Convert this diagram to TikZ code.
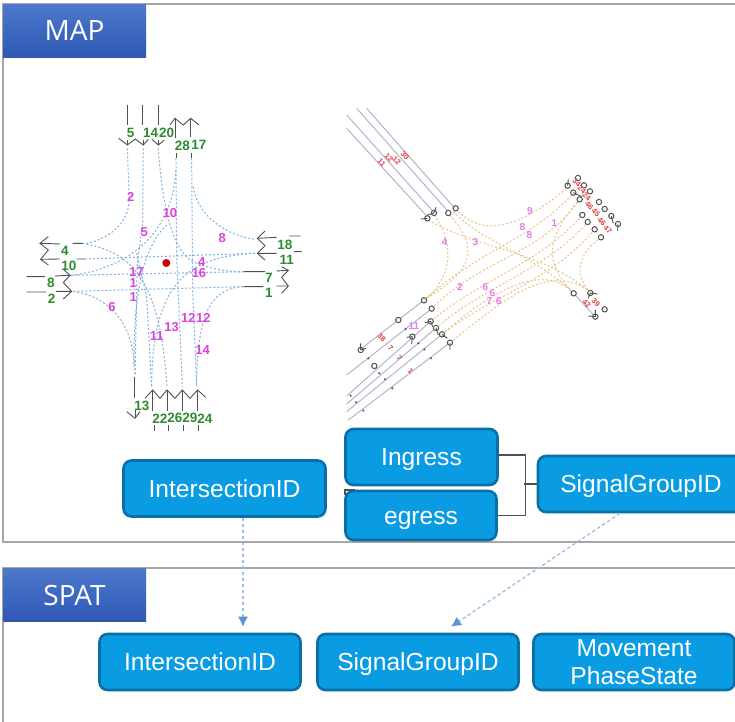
\documentclass[tikz,border=0pt]{standalone}
\usepackage{fontspec}
\setmainfont{Liberation Sans}
\newfontfamily\headfont{Open Sans}
\usetikzlibrary{arrows.meta}
\definecolor{boxfill}{HTML}{0A9CE2}
\definecolor{boxedge}{HTML}{0A6FA6}
\definecolor{frameline}{HTML}{A6A6A6}
\definecolor{linkblue}{HTML}{9DBCE4}
\definecolor{tipblue}{HTML}{5B94D6}
\definecolor{lanegreen}{HTML}{2E8B2E}
\definecolor{lanepink}{HTML}{E040E0}
\definecolor{lanered}{HTML}{E04040}
\definecolor{laneblue}{HTML}{7FB2DC}
\definecolor{laneorange}{HTML}{E8C48A}
\definecolor{lanegray}{HTML}{B4B4CC}
\definecolor{symbgray}{HTML}{505050}
\definecolor{headtop}{HTML}{4C78CC}
\definecolor{headbot}{HTML}{2F58B4}
\tikzset{
  bluebox/.style={draw=boxedge,line width=2.6pt,fill=boxfill,rounded corners=8pt,text=white,
    font=\fontsize{24.6}{28}\selectfont,align=center,inner sep=0pt,minimum height=#1},
  bluebox/.default=56pt,
  header/.style={inner sep=0pt,minimum width=143pt,minimum height=53pt,top color=headtop,bottom color=headbot,
    text=white,font=\headfont\fontsize{28}{32}\selectfont},
  frameedge/.style={draw=frameline,line width=1.4pt},
  bracket/.style={draw=symbgray,line width=1.3pt},
  linkarrow/.style={draw=linkblue,line width=1.3pt,dash pattern=on 3.5pt off 2.5pt,
    -{Latex[length=10pt,width=10pt,color=tipblue]}},
  greenlab/.style={text=lanegreen,font=\bfseries\fontsize{13.5}{15}\selectfont,inner sep=0pt},
  pinklab/.style={text=lanepink,font=\bfseries\fontsize{13}{15}\selectfont,inner sep=0pt},
  redlab/.style={text=lanered,font=\bfseries\fontsize{7.5}{8}\selectfont,inner sep=0pt,rotate=-45},
  orangepink/.style={text=lanepink!70,font=\bfseries\fontsize{10}{11}\selectfont,inner sep=0pt},
  bluelane/.style={draw=laneblue,line width=1pt,dash pattern=on 2pt off 2pt},
  orangelane/.style={draw=laneorange,line width=1pt,dash pattern=on 2pt off 2pt},
  lilac/.style={draw=lanegray,line width=1pt},
  symb/.style={draw=symbgray,line width=0.9pt},
}
\begin{document}
\begin{tikzpicture}[x=1pt,y=-1pt]
\useasboundingbox (0,0) rectangle (735,721);
\fill[white] (0,0) rectangle (735,721);
% frames
\draw[frameedge] (800,4) -- (3,4) -- (3,542) -- (800,542);
\draw[frameedge] (800,568) -- (3,568) -- (3,760);
\node[header] (maphead) at (74.5,30.5) {MAP};
\node[header] (spathead) at (74.5,595) {SPAT};

% ---------- left intersection (coordinates of a 3x crop)
\begin{scope}[shift={(20,90)},x=0.3333pt,y=-0.3333pt]
  % lanes
  \draw[bluelane] (322,175) -- (328,330) .. controls (325,400) and (270,445) .. (195,462);
  \draw[bluelane] (370,175) -- (368,400) -- (352,520) -- (345,855);
  \draw[bluelane] (415,175) .. controls (425,320) and (450,480) .. (520,515) .. controls (560,535) and (620,545) .. (672,546);
  \draw[bluelane] (468,205) -- (470,500) -- (487,890);
  \draw[bluelane] (515,205) -- (518,600) -- (530,890);
  \draw[bluelane] (468,240) .. controls (460,400) and (360,530) .. (150,557);
  \draw[bluelane] (520,290) .. controls (530,370) and (610,435) .. (705,448);
  \draw[bluelane] (200,462) .. controls (330,490) and (420,560) .. (441,890);
  \draw[bluelane] (195,507) -- (705,490);
  \draw[bluelane] (150,556) -- (670,545);
  \draw[bluelane] (160,604) -- (670,590);
  \draw[bluelane] (160,604) .. controls (260,620) and (345,690) .. (345,855);
  \draw[bluelane] (670,590) .. controls (590,595) and (530,640) .. (530,890);
  \draw[bluelane] (705,490) .. controls (520,500) and (395,560) .. (395,890);
  \draw[bluelane] (350,490) -- (380,620) -- (395,890);
  \draw[bluelane] (440,405) .. controls (370,470) and (340,610) .. (342,830);
  % north
  \foreach \x in {322,368,414}{\draw[symb] (\x,45) -- (\x,105);}
  \draw[symb] (296,145) -- (322,165) -- (346,147) -- (370,165) -- (385,148);
  \draw[symb] (396,148) -- (415,165) -- (433,150);
  \draw[symb] (322,150) -- (322,165) (370,150) -- (370,165) (415,150) -- (415,165);
  \draw[symb] (465,145) -- (465,85) (512,140) -- (512,85);
  \draw[symb] (450,105) -- (465,85) -- (490,105) -- (512,85) -- (537,105);
  \draw[symb] (468,190) -- (468,205) (515,190) -- (515,205);
  % west
  \draw[symb] (120,462) -- (60,460) (158,460) -- (190,460);
  \draw[symb] (85,440) -- (60,460) -- (85,480) -- (62,508) -- (85,525);
  \draw[symb] (120,507) -- (62,508) (170,507) -- (195,507);
  \draw[symb] (20,560) -- (75,560) (105,558) -- (150,556) (20,606) -- (78,606) (108,604) -- (155,604);
  \draw[symb] (130,538) -- (150,556) -- (130,578) -- (155,604) -- (130,627);
  % east
  \draw[symb] (712,445) -- (770,442) (808,438) -- (842,438) (712,490) -- (770,490) (822,485) -- (845,485);
  \draw[symb] (735,423) -- (712,445) -- (735,467) -- (712,490) -- (735,510);
  \draw[symb] (672,545) -- (735,545) (770,543) -- (805,541) (672,590) -- (730,590) (770,588) -- (805,588);
  \draw[symb] (785,530) -- (805,541) -- (785,562) -- (805,588) -- (785,610);
  % south
  \draw[symb] (343,860) -- (343,925) (345,960) -- (345,985);
  \draw[symb] (320,965) -- (345,985) -- (360,965);
  \foreach \x in {398,441,487,533}{\draw[symb] (\x,962) -- (\x,900);}
  \draw[symb] (375,925) -- (398,900) -- (420,925) -- (441,900) -- (465,925) -- (487,900) -- (510,925) -- (533,900) -- (557,922);
  \foreach \x in {402,444,490,536}{\draw[symb] (\x,1005) -- (\x,1022);}
  % green numbers
  \foreach \t/\x/\y [count=\i] in {5/332/130,14/392/130,20/440/128,28/487/168,17/537/165,
     4/135/483,10/147/527,8/93/580,2/95/627,18/795/465,11/800/511,7/747/565,1/747/610,
     13/366/948,22/420/985,26/465/985,29/510/985,24/555/985}
    {\node[greenlab] (gr\i) at (\x,\y) {\t};}
  % pink numbers
  \foreach \t/\x/\y [count=\i] in {2/332/320,10/450/370,5/373/427,8/607/445,17/350/545,4/545/515,
     16/537/548,1/340/578,1/340/622,6/276/650,12/505/683,12/550/683,13/455/712,11/410/738,14/548/780}
    {\node[pinklab] (pk\i) at (\x,\y) {\t};}
  \fill[red!80!black] (439,519) circle [radius=12];
\end{scope}

% ---------- right intersection (coordinates of a 3x crop)
\begin{scope}[shift={(340,100)},x=0.3333pt,y=-0.3333pt]
  % lane lines
  \draw[lilac] (80,25) -- (340,320);
  \draw[lilac] (50,25) -- (325,335);
  \draw[lilac] (20,45) -- (280,335);
  \draw[lilac] (20,85) -- (262,350);
  \draw[lilac] (250,602) -- (65,745);
  \draw[lilac] (275,626) -- (20,825);
  \draw[lilac] (272,664) -- (20,888);
  \draw[lilac] (288,684) -- (20,912);
  \draw[lilac] (306,703) -- (20,935);
  \draw[lilac] (330,728) -- (25,960);
  \draw[lilac] (701,580) -- (766,650);
  % movements
  \draw[orangelane] (355,335) .. controls (420,400) and (520,400) .. (680,265);
  \draw[orangelane] (330,345) .. controls (420,450) and (400,510) .. (250,602);
  \draw[orangelane] (282,345) .. controls (340,420) and (345,530) .. (250,602);
  \draw[orangelane] (265,360) .. controls (420,450) and (600,450) .. (750,575);
  \draw[orangelane] (340,335) .. controls (430,430) and (560,450) .. (700,578);
  \draw[orangelane] (252,601) .. controls (430,440) and (560,430) .. (700,280);
  \draw[orangelane] (275,626) .. controls (430,470) and (600,470) .. (719,298);
  \draw[orangelane] (272,664) .. controls (420,540) and (600,490) .. (727,345);
  \draw[orangelane] (288,684) .. controls (430,560) and (620,510) .. (743,366);
  \draw[orangelane] (306,703) .. controls (450,590) and (640,540) .. (764,388);
  \draw[orangelane] (306,703) .. controls (470,560) and (610,490) .. (700,578);
  \draw[orangelane] (330,728) .. controls (480,610) and (620,480) .. (751,575);
  \draw[orangelane] (783,412) .. controls (700,470) and (710,540) .. (751,575);
  \draw[orangelane] (719,298) .. controls (630,400) and (600,480) .. (700,578);
  % stop-line circles
  \foreach \x/\y in {347/325,325/339,282/339,262/355,252/601,275/626,175/660,62/750,103/798,
     272/664,288/684,306/703,330/728,217/710,714/234,732/256,750/274,683/257,700/278,719/298,
     777/306,794/327,814/348,834/372,727/345,743/366,764/388,783/412,701/580,751/579,794/628,766/650}
    {\draw[symb,fill=white,line width=1pt] (\x,\y) circle [radius=8];}
  \foreach \x/\y in {85/775,197/687,235/730,253/748,273/775,118/820,135/838,157/865,32/887,48/907,70/932}
    {\fill[symbgray] (\x,\y) circle [radius=3.5];}
  % arrow marks by the circles
  \draw[symb] (262,355) -- (243,357) (282,339) -- (288,322) (282,339) -- (262,345);
  \draw[symb] (62,750) -- (62,730) (62,750) -- (78,745);
  \draw[symb] (217,710) -- (200,712) (217,710) -- (215,732);
  \draw[symb] (272,664) -- (255,668) (272,664) -- (278,680);
  \draw[symb] (288,684) -- (295,705) (306,703) -- (322,715) (330,728) -- (330,750);
  \draw[symb] (751,579) -- (772,582) (751,579) -- (745,595);
  \draw[symb] (766,650) -- (745,648) (766,650) -- (766,630);
  \draw[symb] (683,257) -- (685,238) (700,278) -- (725,290) (834,372) -- (833,392) (814,348) -- (820,370);
  % lane numbers
  \foreach \t/\x/\y [count=\i] in {9/570/332,8/547/380,8/568/404,1/643/370,4/313/425,3/406/427,
     2/360/562,6/436/562,6/457/580,7/448/604,6/477/604,11/222/677}
    {\node[orangepink] (op\i) at (\x,\y) {\t};}
  \foreach \t/\x/\y [count=\i] in {11/125/188,12/147/172,12/170/182,30/195/168,38/125/712,7/152/745,
     7/178/775,1/212/815,34/710/248,24/726/270,24/740/290,46/748/318,45/768/338,46/785/365,47/803/388,
     42/740/610,39/768/607}
    {\node[redlab] (rd\i) at (\x,\y) {\t};}
\end{scope}

% ---------- boxes
\tikzset{boxtext/.style={text height=17pt,text depth=0pt}}
\node[bluebox,boxtext,minimum width=202pt] (mapid) at (224.5,488.5) {IntersectionID};
\node[bluebox,boxtext,minimum width=152pt] (ingress) at (421.5,457) {Ingress};
\node[bluebox=49pt,boxtext,minimum width=151pt] (egress) at (421,515.5) {egress};
\node[bluebox,boxtext,minimum width=206pt] (mapsg) at (641,484) {SignalGroupID};
\node[bluebox,boxtext,minimum width=201pt] (spatid) at (200,662) {IntersectionID};
\node[bluebox,boxtext,minimum width=201pt] (spatsg) at (418,662) {SignalGroupID};
\node[bluebox,minimum width=201pt,font=\fontsize{24.6}{28}\selectfont] (spatmp) at (634,662) {Movement\\PhaseState};
% connectors
\draw[bracket] (ingress.east) ++(0,-2) -- ++(27,0) |- (egress.east);
\draw[bracket] (mapsg.west) -- ++(-13,0);
\draw[bracket] (345,495) |- (355,490);
\draw[linkarrow] ([xshift=18.5pt]mapid.south) -- ([xshift=43pt,yshift=6pt]spatid.north);
\draw[linkarrow] ([xshift=-21pt]mapsg.south) -- ([xshift=33pt,yshift=6pt]spatsg.north);
\end{tikzpicture}
\end{document}
